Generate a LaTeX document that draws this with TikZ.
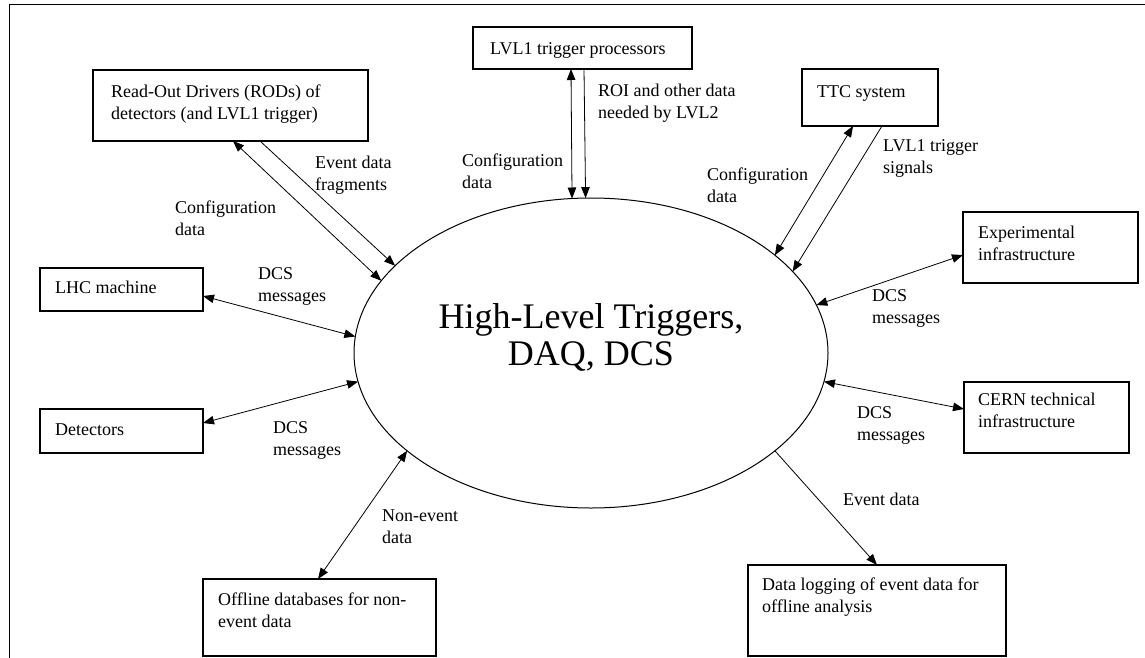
\documentclass[tikz,border=0pt]{standalone}
\usepackage{fontspec}
\setmainfont{Liberation Serif}
\usetikzlibrary{shapes.geometric,arrows.meta,calc}
\begin{document}
\begin{tikzpicture}[x=1pt,y=-1pt,
  box/.style={draw, line width=1.1pt, inner sep=0pt, outer sep=0pt, anchor=north west},
  lbl/.style={font=\fontsize{18}{22}\selectfont, align=left, inner sep=0pt, anchor=north west},
  conn/.style={line width=0.8pt},
  >={Triangle[length=11pt,width=8.5pt]}]
\useasboundingbox (0,0) rectangle (1145,658);
% frame
\draw[line width=1.2pt] (9.5,658) -- (9.5,4.5) -- (1145,4.5);

% central ellipse
\node[ellipse, draw, line width=1pt, minimum width=474pt, minimum height=310pt, inner sep=0pt, outer sep=0pt] (hl) at (591,353) {};
\node[font=\fontsize{36}{37}\selectfont, align=center, inner sep=0pt] (title) at (591,337) {High-Level Triggers,\\DAQ, DCS};

% boxes
\node[box, minimum width=275pt, minimum height=71pt] (rod) at (93,70) {};
\node[box, minimum width=219pt, minimum height=42pt] (lvl1) at (473,27) {};
\node[box, minimum width=136pt, minimum height=57pt] (ttc) at (802,69) {};
\node[box, minimum width=175pt, minimum height=71pt] (exp) at (963,212) {};
\node[box, minimum width=165pt, minimum height=71pt] (cern) at (964,382) {};
\node[box, minimum width=163pt, minimum height=43pt] (lhc) at (40,268) {};
\node[box, minimum width=163pt, minimum height=44pt] (det) at (40,409) {};
\node[box, minimum width=233pt, minimum height=77pt] (off) at (203,579) {};
\node[box, minimum width=258pt, minimum height=91pt] (dlog) at (748,565) {};

% box texts
\node[lbl] (trod) at (111,84.5) {Read-Out Drivers (RODs) of\\detectors (and LVL1 trigger)};
\node[lbl] (tlvl1) at (490,42.5) {LVL1 trigger processors};
\node[lbl] (tttc) at (817,85.5) {TTC system};
\node[lbl] (texp) at (978,225.5) {Experimental\\infrastructure};
\node[lbl] (tcern) at (978,392.5) {CERN technical\\infrastructure};
\node[lbl] (tlhc) at (55,280.5) {LHC machine};
\node[lbl] (tdet) at (55,423.5) {Detectors};
\node[lbl] (toff) at (218,592.5) {Offline databases for non-\\event data};
\node[lbl] (tdlog) at (762,577.5) {Data logging of event data for\\offline analysis};

% connector labels
\node[lbl] (levf) at (315,155.5) {Event data\\fragments};
\node[lbl] (lcfg1) at (175,200.5) {Configuration\\data};
\node[lbl] (ldcs1) at (258,267.5) {DCS\\messages};
\node[lbl] (ldcs2) at (273,421) {DCS\\messages};
\node[lbl] (lnon) at (382,509.5) {Non-event\\data};
\node[lbl] (lcfg2) at (462,153.5) {Configuration\\data};
\node[lbl] (lroi) at (598,83.5) {ROI and other data\\needed by LVL2};
\node[lbl] (lcfg3) at (707,167.5) {Configuration\\data};
\node[lbl] (ltrig) at (883,139.5) {LVL1 trigger\\signals};
\node[lbl] (ldcs3) at (872,289) {DCS\\messages};
\node[lbl] (ldcs4) at (857,406) {DCS\\messages};
\node[lbl] (lev) at (843,492.5) {Event data};

% connectors
\draw[conn,<->] ($(rod.south west)+(140,0)$) -- (hl.161.2);
\draw[conn,->] ($(rod.south west)+(167,0)$) -- (hl.156.8);
\draw[conn,<->] ($(lvl1.south west)+(98,0)$) -- (hl.97.4);
\draw[conn,->] ($(lvl1.south west)+(111,0)$) -- (hl.92.59);
\draw[conn,<->] ($(ttc.south west)+(51,0)$) -- (hl.28.6);
\draw[conn,->] ($(ttc.south west)+(80,0)$) -- (hl.22.5);
\draw[conn,<->] (hl.12.5) -- ($(exp.west)+(0,7.5)$);
\draw[conn,<->] (hl.353.4) -- ($(cern.west)+(0,-8.5)$);
\draw[conn,<->] ($(lhc.east)+(0,6.5)$) -- (hl.176.6);
\draw[conn,<->] ($(det.east)+(0,-8)$) -- (hl.187.1);
\draw[conn,<->] ($(off.north west)+(115,0)$) -- (hl.208);
\draw[conn,->] (hl.332) -- ($(dlog.north west)+(129,0)$);
\end{tikzpicture}
\end{document}
